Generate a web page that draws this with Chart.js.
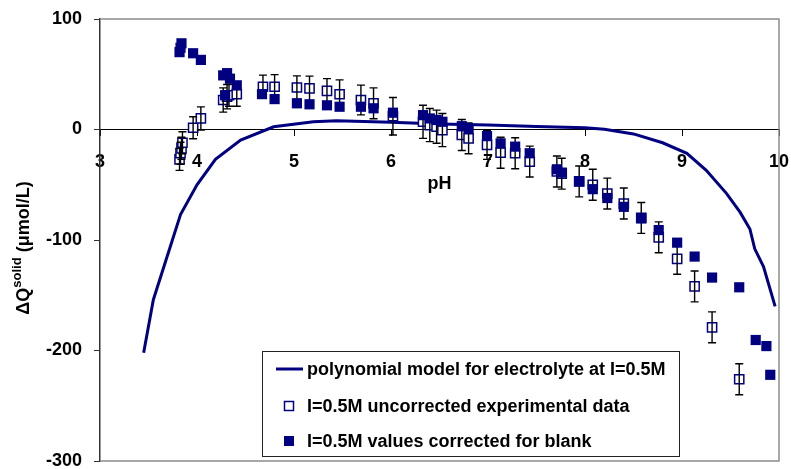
<!DOCTYPE html>
<html>
<head>
<meta charset="utf-8">
<script src="https://cdn.jsdelivr.net/npm/chart.js@4/dist/chart.umd.min.js"></script>
<style>
  html, body { margin: 0; padding: 0; background: #fff; }
  #wrap { width: 791px; height: 469px; }
</style>
</head>
<body>
<div id="wrap"><canvas id="qChart" width="791" height="469"></canvas></div>
<script>
// polynomial model, I = 0.5M
const modelPH = [3.45, 3.55, 3.83, 4.0, 4.19, 4.45, 4.79, 5.2, 5.44, 6.0, 6.5, 7.0, 7.5, 8.0, 8.2, 8.5, 8.8, 9.05, 9.25, 9.46, 9.6, 9.7, 9.75, 9.84, 9.96];
const modelQ  = [-202, -154, -77, -50, -27, -9.5, 2.5, 7, 8, 6.5, 5, 4, 2.8, 1.5, 0.3, -4, -12, -21.5, -37, -58, -75, -90, -108, -124, -160];

// uncorrected experimental data with error
const rawPH  = [3.82, 3.83, 3.84, 3.85, 3.96, 4.04, 4.27, 4.31, 4.33, 4.41, 4.68, 4.80, 5.03, 5.16, 5.34, 5.47, 5.69, 5.82, 6.02, 6.33, 6.40, 6.47, 6.53, 6.73, 6.80, 6.99, 7.13, 7.28, 7.43, 7.71, 7.76, 7.94, 8.08, 8.23, 8.40, 8.58, 8.76, 8.95, 9.13, 9.31, 9.59];
const rawQ   = [-27, -21.5, -17, -12, 1.6, 10, 26.7, 29.7, 31, 32, 38.7, 38.7, 38, 37.3, 35, 31.9, 26.7, 23.7, 12, 7, 4, 2.5, -0.5, -5, -8, -14, -21, -21.5, -29, -38, -40, -47, -50, -58, -67, -80, -97.6, -117, -142, -179, -226];
const rawErr = [10, 10, 10, 10, 10, 10.5, 11, 11, 10, 11, 10.5, 11, 10.5, 11, 11, 13, 13.5, 14, 17, 15, 15, 15, 15, 14, 14, 13, 14, 14, 14, 14, 14, 14, 14, 14, 14, 14, 14, 14, 14, 14, 14];

// values corrected for blank
const blankPH = [3.82, 3.83, 3.84, 3.96, 4.04, 4.27, 4.29, 4.31, 4.34, 4.41, 4.67, 4.80, 5.03, 5.16, 5.34, 5.47, 5.69, 5.82, 6.02, 6.33, 6.40, 6.47, 6.53, 6.73, 6.80, 6.99, 7.13, 7.28, 7.43, 7.71, 7.76, 7.94, 8.08, 8.23, 8.40, 8.58, 8.76, 8.95, 9.13, 9.31, 9.59, 9.76, 9.87, 9.91];
const blankQ  = [70, 74, 78, 69, 63, 49, 31, 51, 46, 40, 32, 27.5, 23.7, 22.8, 21.9, 20.6, 20.6, 19.2, 15.2, 13, 10, 8.6, 7, 3, 1, -6, -12.5, -15.5, -21.5, -36, -39, -47, -54, -62, -70, -80.4, -91, -102.4, -115, -134, -142.8, -190.5, -196, -222];

const legendLabels = [
  'polynomial model for electrolyte at I=0.5M',
  'I=0.5M uncorrected experimental data',
  'I=0.5M values corrected for blank'
];

const NAVY = '#000080';
const FONT = '"Liberation Sans", Arial, sans-serif';

const toXY = (xs, ys) => xs.map((v, i) => ({ x: v, y: ys[i] }));

// frame round the plot: grey top, right, bottom
const plotFrame = {
  id: 'plotFrame',
  beforeDatasetsDraw(chart) {
    const { ctx, chartArea: a } = chart;
    ctx.save();
    ctx.strokeStyle = '#8c8c8c';
    ctx.lineWidth = 1.5;
    ctx.beginPath();
    ctx.moveTo(a.left, a.top);
    ctx.lineTo(a.right, a.top);
    ctx.lineTo(a.right, a.bottom);
    ctx.lineTo(a.left, a.bottom);
    ctx.stroke();
    ctx.restore();
  }
};

// vertical error bars on the uncorrected series
const errorBars = {
  id: 'errorBars',
  afterDatasetDraw(chart, args) {
    if (args.index !== 1) return;
    const { ctx, scales: { x, y } } = chart;
    ctx.save();
    ctx.strokeStyle = '#000';
    ctx.lineWidth = 1.4;
    rawPH.forEach((p, i) => {
      const px = x.getPixelForValue(p);
      const top = y.getPixelForValue(rawQ[i] + rawErr[i]);
      const bot = y.getPixelForValue(rawQ[i] - rawErr[i]);
      ctx.beginPath();
      ctx.moveTo(px, top); ctx.lineTo(px, bot);
      ctx.moveTo(px - 4, top); ctx.lineTo(px + 4, top);
      ctx.moveTo(px - 4, bot); ctx.lineTo(px + 4, bot);
      ctx.stroke();
    });
    ctx.restore();
  }
};

// y title with superscript, and the boxed legend inside the plot
const annotations = {
  id: 'annotations',
  afterDraw(chart) {
    const { ctx, chartArea: a } = chart;
    ctx.save();

    // y axis title
    const big = 'bold 18px ' + FONT, small = 'bold 13px ' + FONT;
    ctx.font = big;
    const w1 = ctx.measureText('\u0394Q').width;
    const w3 = ctx.measureText(' (\u03bcmol/L)').width;
    ctx.font = small;
    const w2 = ctx.measureText('solid').width;
    const total = w1 + w2 + w3;
    ctx.translate(24, (a.top + a.bottom) / 2 + 8);
    ctx.rotate(-Math.PI / 2);
    ctx.fillStyle = '#000';
    ctx.textBaseline = 'middle';
    ctx.textAlign = 'left';
    let cx = -total / 2;
    ctx.font = big;
    ctx.fillText('\u0394Q', cx, 0);
    cx += w1;
    ctx.font = small;
    ctx.fillText('solid', cx, -7);
    cx += w2;
    ctx.font = big;
    ctx.fillText(' (\u03bcmol/L)', cx, 0);
    ctx.setTransform(1, 0, 0, 1, 0, 0);

    // legend box
    const bx = 262.5, by = 351.5, bw = 417, bh = 105;
    ctx.fillStyle = '#fff';
    ctx.fillRect(bx, by, bw, bh);
    ctx.strokeStyle = '#222';
    ctx.lineWidth = 1;
    ctx.strokeRect(bx, by, bw, bh);

    const rows = [369, 406, 441];
    const mx = 289;
    ctx.strokeStyle = NAVY;
    ctx.lineWidth = 3;
    ctx.beginPath();
    ctx.moveTo(276, rows[0]); ctx.lineTo(303, rows[0]);
    ctx.stroke();

    ctx.lineWidth = 1.5;
    ctx.fillStyle = '#fff';
    ctx.fillRect(mx - 4.5, rows[1] - 4.5, 9, 9);
    ctx.strokeRect(mx - 4.5, rows[1] - 4.5, 9, 9);
    ctx.fillStyle = NAVY;
    ctx.fillRect(mx - 5, rows[2] - 5, 10, 10);

    ctx.fillStyle = '#000';
    ctx.font = big;
    ctx.textBaseline = 'middle';
    legendLabels.forEach((t, i) => ctx.fillText(t, 307, rows[i] + 1));
    ctx.restore();
  }
};

const tickFont = { family: FONT, size: 18, weight: 'bold' };

new Chart(document.getElementById('qChart'), {
  type: 'scatter',
  data: {
    datasets: [
      {
        label: legendLabels[0],
        data: toXY(modelPH, modelQ),
        showLine: true,
        borderColor: NAVY,
        borderWidth: 3,
        pointRadius: 0,
        tension: 0,
        order: 3
      },
      {
        label: legendLabels[1],
        data: toXY(rawPH, rawQ),
        pointStyle: 'rect',
        pointRadius: 6.5,
        borderWidth: 1.5,
        borderColor: NAVY,
        backgroundColor: '#fff',
        order: 2
      },
      {
        label: legendLabels[2],
        data: toXY(blankPH, blankQ),
        pointStyle: 'rect',
        pointRadius: 7.2,
        borderWidth: 0,
        backgroundColor: NAVY,
        order: 1
      }
    ]
  },
  options: {
    responsive: false,
    animation: false,
    layout: { padding: { left: 0, top: 19, right: 12, bottom: 8 } },
    plugins: {
      legend: { display: false },
      tooltip: { enabled: false }
    },
    scales: {
      x: {
        type: 'linear',
        position: { y: 0 },
        min: 3,
        max: 10,
        ticks: { stepSize: 1, color: '#000', font: tickFont, padding: 16, maxRotation: 0 },
        grid: { drawOnChartArea: false, tickLength: 6, color: '#000' },
        border: { color: '#000', width: 1 },
        title: { display: true, text: 'pH', color: '#000', font: tickFont, padding: 0 },
        afterFit(s) { s.paddingLeft = 0; s.paddingRight = 0; s.height -= 16; }
      },
      y: {
        min: -300,
        max: 100,
        ticks: { stepSize: 100, color: '#000', font: tickFont, padding: 12 },
        grid: { drawOnChartArea: false, tickLength: 6, color: '#333' },
        border: { color: '#333', width: 1.5 },
        afterFit(s) { s.width = 100; s.paddingTop = 0; s.paddingBottom = 0; }
      }
    }
  },
  plugins: [plotFrame, errorBars, annotations]
});
</script>
</body>
</html>
